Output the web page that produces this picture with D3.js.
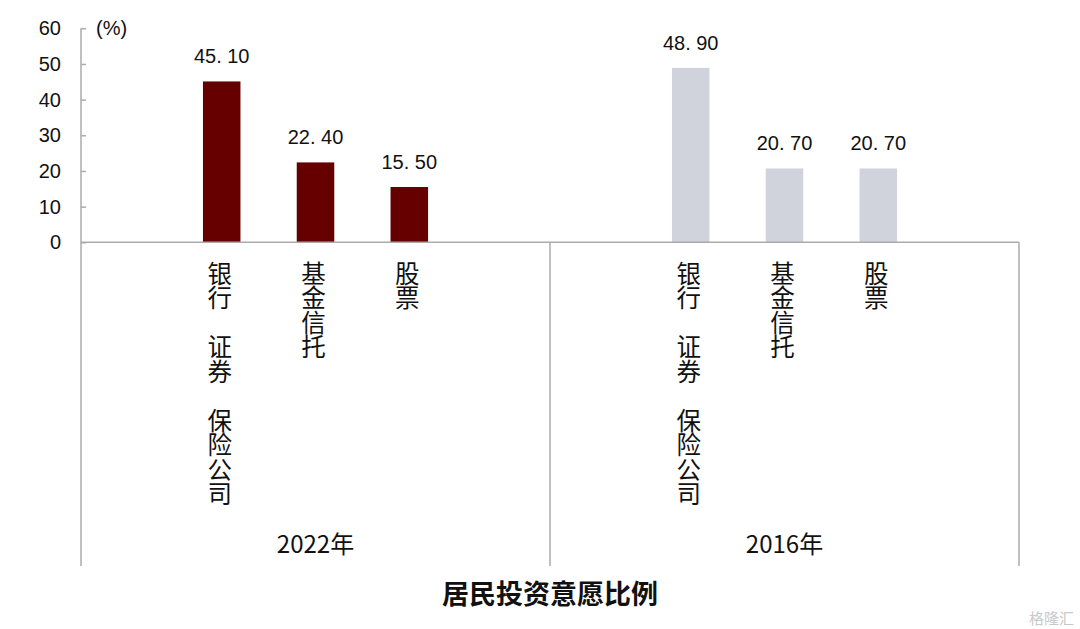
<!DOCTYPE html>
<html><head><meta charset="utf-8">
<script src="https://cdn.jsdelivr.net/npm/d3@7"></script>
<style>
html,body{margin:0;padding:0;background:#fff;}
svg{display:block;}
text{font-family:"Liberation Sans",Arial,"Noto Sans CJK SC",sans-serif;fill:#111;}
.cjk{font-family:"Noto Sans CJK SC","Liberation Sans",sans-serif;}
</style></head>
<body>
<svg id="chart" width="1080" height="629"></svg>
<script>
const years = ["2022年", "2016年"];
const categories = ["银行\u3000证券\u3000保险公司", "基金信托", "股票"];
const values2022 = [45.1, 22.4, 15.5];
const values2016 = [48.9, 20.7, 20.7];
const valueLabels2022 = ["45. 10", "22. 40", "15. 50"];
const valueLabels2016 = ["48. 90", "20. 70", "20. 70"];
const yTicks = [0, 10, 20, 30, 40, 50, 60];
const seriesColors = ["#660000", "#d0d3dc"];
const unitLabel = "(%)";
const title = "居民投资意愿比例";

const svg = d3.select("#chart");
const mLeft = 81, mRight = 1019, mTop = 28.3, zeroY = 242.3, bottomLine = 566;
const axisColor = "#ababab";

const y = d3.scaleLinear().domain([0, 60]).range([zeroY, mTop]);
const xOuter = d3.scaleBand().domain(years).range([mLeft, mRight]).padding(0);
const xInner = d3.scaleBand().domain(categories).range([0, xOuter.bandwidth()])
  .paddingInner(0.6).paddingOuter(1.3);

const groups = [
  {year: years[0], values: values2022, labels: valueLabels2022, color: seriesColors[0]},
  {year: years[1], values: values2016, labels: valueLabels2016, color: seriesColors[1]}
];

groups.forEach(g => {
  const gx = xOuter(g.year);
  const gg = svg.append("g").attr("transform", `translate(${gx},0)`);
  gg.selectAll("rect").data(categories).enter().append("rect")
    .attr("x", d => xInner(d))
    .attr("width", xInner.bandwidth())
    .attr("y", (d, i) => y(g.values[i]))
    .attr("height", (d, i) => y(0) - y(g.values[i]))
    .attr("fill", g.color);
  gg.selectAll("text.val").data(categories).enter().append("text")
    .attr("class", "val")
    .attr("x", d => xInner(d) + xInner.bandwidth() / 2)
    .attr("y", (d, i) => y(g.values[i]) - 18)
    .attr("text-anchor", "middle")
    .attr("font-size", 20)
    .text((d, i) => g.labels[i]);
  gg.selectAll("text.cat").data(categories).enter().append("text")
    .attr("class", "cat cjk")
    .attr("x", d => xInner(d) + xInner.bandwidth() / 2 - 2)
    .attr("y", zeroY + 19)
    .attr("font-size", 24.5)
    .style("writing-mode", "vertical-rl")
    .style("text-orientation", "upright")
    .text(d => d);
  gg.append("text")
    .attr("class", "cjk")
    .attr("x", xOuter.bandwidth() / 2)
    .attr("y", 545)
    .attr("dy", "0.35em")
    .attr("text-anchor", "middle")
    .attr("font-size", 24)
    .text(g.year);
});

const yAxis = d3.axisLeft(y).tickValues(yTicks).tickSize(-5).tickPadding(20);
const ga = svg.append("g").attr("transform", `translate(${mLeft},0)`).call(yAxis);
ga.select(".domain").remove();
ga.selectAll(".tick line").attr("stroke", axisColor).attr("stroke-width", 1.5);
ga.selectAll(".tick text").attr("font-size", 20).attr("fill", "#111")
  .attr("font-family", "'Liberation Sans', Arial, sans-serif");

svg.append("line").attr("x1", mLeft).attr("x2", mLeft).attr("y1", y(60)).attr("y2", bottomLine)
  .attr("stroke", axisColor).attr("stroke-width", 1.5);
svg.append("line").attr("x1", mLeft).attr("x2", mRight).attr("y1", zeroY).attr("y2", zeroY)
  .attr("stroke", axisColor).attr("stroke-width", 1.5);
[xOuter(years[1]), mRight].forEach(xv => {
  svg.append("line").attr("x1", xv).attr("x2", xv).attr("y1", zeroY).attr("y2", bottomLine)
    .attr("stroke", axisColor).attr("stroke-width", 1.5);
});

svg.append("text").attr("x", 96).attr("y", y(60)).attr("dy", "0.35em")
  .attr("font-size", 20).text(unitLabel);

svg.append("text").attr("class", "cjk")
  .attr("x", (mLeft + mRight) / 2).attr("y", 595).attr("dy", "0.35em")
  .attr("text-anchor", "middle").attr("font-size", 27).attr("font-weight", "bold")
  .text(title);

svg.append("text").attr("class", "cjk")
  .attr("x", 1074).attr("y", 624).attr("text-anchor", "end")
  .attr("font-size", 15).style("fill", "#c8c8c8").text("格隆汇");
</script>
</body></html>
